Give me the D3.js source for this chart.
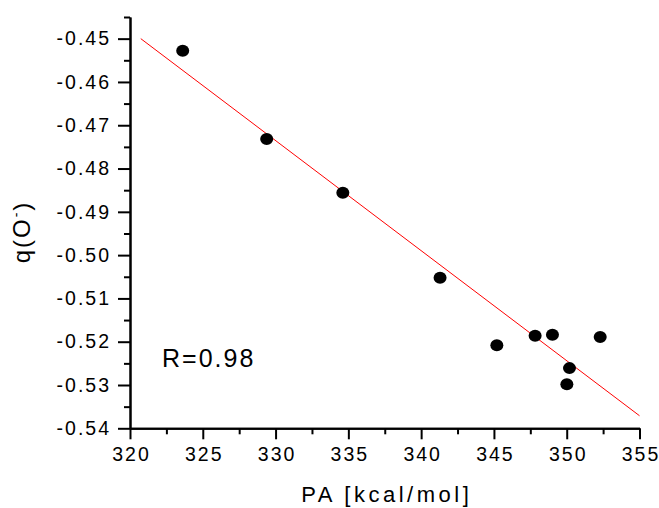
<!DOCTYPE html>
<html>
<head>
<meta charset="utf-8">
<script src="https://cdn.jsdelivr.net/npm/d3@7"></script>
<style>
  body { margin: 0; background: #fff; }
  svg { display: block; }
  text { font-family: "Liberation Sans", Arial, sans-serif; fill: #000; }
  .axis path, .axis line { stroke: #000; stroke-width: 2; }
  .axis text { font-size: 19.5px; letter-spacing: 2px; }
</style>
</head>
<body>
<svg id="chart" width="659" height="508"></svg>
<script>
// data
var paValues = [323.62, 329.39, 334.62, 341.30, 345.20, 347.83, 349.02, 352.30, 350.19, 350.01];
var qValues = [-0.4528, -0.4732, -0.4856, -0.5052, -0.5208, -0.5186, -0.5184, -0.5189, -0.5261, -0.5298];
// fitted line end points
var fitX = [320.74, 355];
var fitY = [-0.4500, -0.5371];
var xTicks = [320, 325, 330, 335, 340, 345, 350, 355];
var xMinor = [322.5, 327.5, 332.5, 337.5, 342.5, 347.5, 352.5];
var yTicks = [-0.54, -0.53, -0.52, -0.51, -0.50, -0.49, -0.48, -0.47, -0.46, -0.45];
var yMinor = [-0.535, -0.525, -0.515, -0.505, -0.495, -0.485, -0.475, -0.465, -0.455, -0.445];

var svg = d3.select("#chart");
var plotLeft = 130, plotRight = 639.5, plotTop = 17, plotBottom = 428.3;

var x = d3.scaleLinear().domain([320, 355]).range([plotLeft, plotRight]);
var y = d3.scaleLinear().domain([-0.54, -0.445]).range([plotBottom, plotTop]);

var loc = d3.formatLocale({ decimal: ".", thousands: ",", grouping: [3], currency: ["", ""], minus: "-" });
var fmt = loc.format(".2f");

// minor ticks
svg.append("g").attr("class", "axis")
  .attr("transform", "translate(0," + plotBottom + ")")
  .call(d3.axisBottom(x).tickValues(xMinor).tickSize(6).tickSizeOuter(0).tickFormat(""));
svg.append("g").attr("class", "axis")
  .attr("transform", "translate(" + plotLeft + ",0)")
  .call(d3.axisLeft(y).tickValues(yMinor).tickSize(6).tickSizeOuter(0).tickFormat(""));

// major ticks
var xAxis = svg.append("g").attr("class", "axis")
  .attr("transform", "translate(0," + plotBottom + ")")
  .call(d3.axisBottom(x).tickValues(xTicks).tickSize(11).tickSizeOuter(0).tickPadding(8));
xAxis.selectAll("text").attr("dx", "1px");

var yAxis = svg.append("g").attr("class", "axis")
  .attr("transform", "translate(" + plotLeft + ",0)")
  .call(d3.axisLeft(y).tickValues(yTicks).tickSize(12).tickSizeOuter(0).tickPadding(8).tickFormat(fmt));
yAxis.selectAll("text").attr("x", -19);

// fit line
svg.append("line")
  .attr("x1", x(fitX[0])).attr("y1", y(fitY[0]))
  .attr("x2", x(fitX[1])).attr("y2", y(fitY[1]))
  .attr("stroke", "#ff0000")
  .attr("stroke-width", 1);

// points
svg.append("g").selectAll("ellipse")
  .data(paValues)
  .enter().append("ellipse")
  .attr("cx", function (d) { return x(d); })
  .attr("cy", function (d, i) { return y(qValues[i]); })
  .attr("rx", 6.5)
  .attr("ry", 6)
  .attr("fill", "#000");

// labels
svg.append("text")
  .attr("x", (plotLeft + plotRight) / 2 + 2)
  .attr("y", 502)
  .attr("text-anchor", "middle")
  .style("font-size", "22px")
  .style("letter-spacing", "3.5px")
  .text("PA [kcal/mol]");

var yl = svg.append("text")
  .attr("transform", "translate(30,232) rotate(-90)")
  .attr("text-anchor", "middle")
  .style("font-size", "24px")
  .style("letter-spacing", "2px");
yl.append("tspan").text("q(O");
yl.append("tspan").attr("dy", -9).style("font-size", "14px").text("-");
yl.append("tspan").attr("dy", 9).text(")");

svg.append("text")
  .attr("x", 162)
  .attr("y", 367)
  .style("font-size", "25px")
  .style("letter-spacing", "2px")
  .text("R=0.98");
</script>
</body>
</html>
